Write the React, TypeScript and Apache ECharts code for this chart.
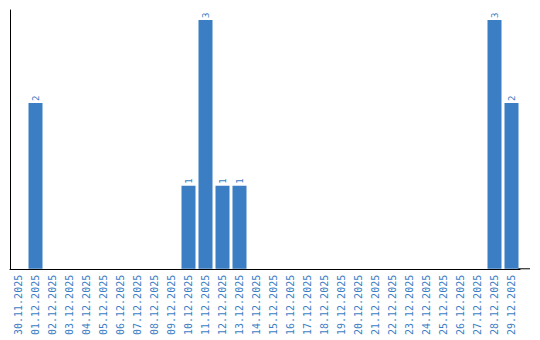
import React, { useEffect, useRef } from "react";
import * as echarts from "echarts";

const categories = [
  "30.11.2025", "01.12.2025", "02.12.2025", "03.12.2025", "04.12.2025", "05.12.2025",
  "06.12.2025", "07.12.2025", "08.12.2025", "09.12.2025", "10.12.2025", "11.12.2025",
  "12.12.2025", "13.12.2025", "14.12.2025", "15.12.2025", "16.12.2025", "17.12.2025",
  "18.12.2025", "19.12.2025", "20.12.2025", "21.12.2025", "22.12.2025", "23.12.2025",
  "24.12.2025", "25.12.2025", "26.12.2025", "27.12.2025", "28.12.2025", "29.12.2025",
];
const values = [
  0, 2, 0, 0, 0, 0, 0, 0, 0, 0, 1, 3, 1, 1, 0, 0, 0, 0, 0, 0, 0, 0, 0, 0, 0, 0, 0, 0, 3, 2,
];

const BLUE = "#3b7ec4";
const FONT = "DejaVu Sans Mono";

export default function App() {
  const ref = useRef<HTMLDivElement>(null);
  useEffect(() => {
    if (!ref.current) return;
    const chart = echarts.init(ref.current, undefined, { renderer: "svg" });
    chart.setOption({
      animation: false,
      grid: { left: 2, right: 18, top: 2, bottom: 68 },
      xAxis: {
        type: "category",
        data: categories,
        axisLine: { show: true, lineStyle: { color: "#000", width: 1 } },
        axisTick: { show: false },
        axisLabel: {
          rotate: 90,
          interval: 0,
          color: BLUE,
          fontSize: 10,
          fontFamily: FONT,
          margin: 6,
        },
      },
      yAxis: {
        type: "value",
        min: 0,
        max: 3.12,
        axisLine: { show: true, lineStyle: { color: "#000", width: 1 } },
        axisTick: { show: false },
        axisLabel: { show: false },
        splitLine: { show: false },
      },
      series: [
        {
          type: "bar",
          data: values.map((v) => (v === 0 ? null : v)),
          barWidth: 14,
          itemStyle: { color: BLUE },
          label: {
            show: true,
            position: "top",
            rotate: 90,
            align: "left",
            verticalAlign: "middle",
            distance: 2,
            color: BLUE,
            fontSize: 9,
            fontFamily: FONT,
          },
        },
      ],
    });
    const y0 = chart.convertToPixel({ yAxisIndex: 0 }, 0) as number;
    const w = chart.getWidth();
    chart.setOption({
      graphic: [
        {
          type: "line",
          shape: { x1: w - 20, y1: y0, x2: w - 8, y2: y0 },
          style: { stroke: "#000", lineWidth: 1 },
          silent: true,
        },
      ],
    });
    return () => chart.dispose();
  }, []);
  return <div ref={ref} style={{ width: 530, height: 330 }} />;
}
